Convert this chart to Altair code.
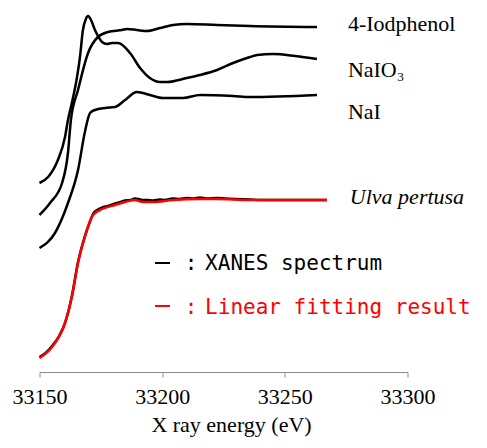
import altair as alt
import pandas as pd

# ---- reference spectra (energy in eV, offset normalized absorbance) ----
naio3_e = [33150, 33153.5, 33157.5, 33160.4, 33161.6, 33163.2, 33165.3, 33166.5, 33167.7,
           33168.9, 33169.8, 33171.0, 33172.6, 33174.3, 33175.5, 33177.5, 33179.6, 33182.0,
           33186.9, 33191.0, 33195.0, 33199.1, 33202.0, 33210.1, 33215.4, 33222.4, 33228.9,
           33235.8, 33238.7, 33245.2, 33254.2, 33263.1]
naio3_a = [1.89, 1.95, 2.12, 2.35, 2.52, 2.69, 2.95, 3.15, 3.42,
           3.53, 3.56, 3.52, 3.42, 3.34, 3.30, 3.28, 3.29, 3.29,
           3.19, 3.04, 2.94, 2.90, 2.90, 2.94, 2.97, 3.02, 3.09,
           3.15, 3.17, 3.18, 3.16, 3.13]

iodphenol_e = [33150, 33154.3, 33159.2, 33161.6, 33162.8, 33165.7, 33169.8, 33173.8, 33177.9,
               33183.6, 33185.7, 33189.7, 33193.8, 33199.1, 33204.4, 33210.1, 33222.4, 33235.8,
               33263.1]
iodphenol_a = [1.57, 1.69, 1.89, 2.19, 2.52, 2.82, 3.19, 3.35, 3.40,
               3.42, 3.43, 3.42, 3.41, 3.44, 3.47, 3.48, 3.47, 3.46,
               3.45]

nai_e = [33150, 33156.3, 33161.6, 33165.7, 33168.5, 33170.6, 33172.6, 33176.7, 33180.8,
         33184.9, 33189.7, 33195.0, 33200.3, 33208.5, 33215.4, 33228.9, 33235.8, 33263.1]
nai_a = [1.24, 1.39, 1.69, 2.02, 2.40, 2.59, 2.62, 2.64, 2.65,
         2.72, 2.80, 2.77, 2.74, 2.74, 2.77, 2.76, 2.75, 2.77]

# ---- Ulva pertusa: measured spectrum and linear fitting result ----
ulva_e = [33150, 33152.5, 33155.1, 33158.0, 33160.4, 33163.2, 33165.7, 33168.5, 33170.5,
          33171.8, 33173.5, 33175.5, 33178.0, 33180.8, 33183.0, 33184.9, 33187.0, 33188.9,
          33191.0, 33192.2, 33194.0, 33196.3, 33199.0, 33201.0, 33204.4, 33207.0, 33210.0,
          33213.0, 33215.4, 33218.0, 33222.4, 33226.0, 33230.0, 33235.8, 33240.0, 33246.0,
          33252.1, 33260.0, 33267.2]
ulva_a = [0.15, 0.19, 0.26, 0.36, 0.49, 0.76, 1.10, 1.36, 1.50,
          1.58, 1.62, 1.645, 1.66, 1.685, 1.70, 1.715, 1.72, 1.735,
          1.725, 1.72, 1.72, 1.715, 1.725, 1.72, 1.735, 1.73, 1.74,
          1.735, 1.745, 1.735, 1.74, 1.735, 1.73, 1.725, 1.72, 1.72,
          1.72, 1.72, 1.72]

fit_e = [33150, 33155.1, 33160.4, 33163.2, 33165.7, 33168.5, 33171.8, 33175.5, 33180.8,
         33184.9, 33188.9, 33192.2, 33196.3, 33204.4, 33215.4, 33222.4, 33235.8, 33252.1,
         33267.2]
fit_a = [0.14, 0.25, 0.49, 0.75, 1.09, 1.35, 1.57, 1.63, 1.67,
         1.70, 1.72, 1.70, 1.70, 1.72, 1.73, 1.73, 1.72, 1.72,
         1.72]

x_ticks = [33150, 33200, 33250, 33300]

# ---- labels ----
name_labels = ["4-Iodphenol", "NaIO\u2083", "NaI"]
name_x = [33275.7, 33275.7, 33275.7]
name_y = [3.41, 2.95, 2.53]
ulva_label = ["Ulva pertusa"]
ulva_label_x = [33276.5]
ulva_label_y = [1.68]

legend_colon = [":", ":"]
legend_text = ["XANES spectrum", "Linear fitting result"]
legend_colors = ["black", "#ff0000"]
legend_dash_x = [33197.1, 33197.1]
legend_dash_x2 = [33203.2, 33203.2]
legend_dash_y = [1.09, 0.66]
legend_colon_x = [33211.8, 33211.8]
legend_text_x = [33217.5, 33217.5]
legend_y = [1.02, 0.58]

rows = []
for name, es, as_ in [("NaIO3", naio3_e, naio3_a), ("4-Iodphenol", iodphenol_e, iodphenol_a),
                      ("NaI", nai_e, nai_a), ("Ulva", ulva_e, ulva_a)]:
    for e, a in zip(es, as_):
        rows.append({"series": name, "energy": e, "absorbance": a})
df_black = pd.DataFrame(rows)
df_fit = pd.DataFrame({"series": "fit", "energy": fit_e, "absorbance": fit_a})

x_scale = alt.Scale(domain=[33150, 33300], nice=False, zero=False)
y_scale = alt.Scale(domain=[0, 3.64], nice=False, zero=False)

x_axis = alt.Axis(values=x_ticks, format="d", title="X ray energy (eV)", grid=False,
                  domainColor="#8c8c8c", tickColor="#8c8c8c", tickSize=5, domainWidth=1,
                  labelFont="Liberation Serif", labelFontSize=22, labelColor="black",
                  labelPadding=9, labelFlush=False, labelOverlap=False,
                  titleFont="Liberation Serif", titleFontSize=22, titleFontWeight="normal",
                  titleColor="black", titlePadding=7, titleX=191.5)

black_lines = alt.Chart(df_black).mark_line(interpolate="monotone", color="black", strokeWidth=2.5).encode(
    x=alt.X("energy:Q", scale=x_scale, axis=x_axis),
    y=alt.Y("absorbance:Q", scale=y_scale, axis=None),
    detail="series:N",
)
fit_line = alt.Chart(df_fit).mark_line(interpolate="monotone", color="#ff0000", strokeWidth=2.5).encode(
    x=alt.X("energy:Q", scale=x_scale, axis=x_axis),
    y=alt.Y("absorbance:Q", scale=y_scale, axis=None),
)

df_names = pd.DataFrame({"label": name_labels, "x": name_x, "y": name_y})
names = alt.Chart(df_names).mark_text(font="Liberation Serif", fontSize=22, align="left",
                                      baseline="alphabetic", color="black").encode(
    x=alt.X("x:Q", scale=x_scale, axis=x_axis), y=alt.Y("y:Q", scale=y_scale, axis=None), text="label:N")

df_ulva = pd.DataFrame({"label": ulva_label, "x": ulva_label_x, "y": ulva_label_y})
ulva_txt = alt.Chart(df_ulva).mark_text(font="Liberation Serif", fontSize=22, fontStyle="italic",
                                        align="left", baseline="alphabetic", color="black").encode(
    x=alt.X("x:Q", scale=x_scale, axis=x_axis), y=alt.Y("y:Q", scale=y_scale, axis=None), text="label:N")

df_leg = pd.DataFrame({"colon": legend_colon, "text": legend_text,
                       "color": legend_colors, "dx": legend_dash_x, "dx2": legend_dash_x2,
                       "dy": legend_dash_y, "cx": legend_colon_x,
                       "tx": legend_text_x, "y": legend_y})
color_enc = alt.Color("color:N", scale=None)
leg_dash = alt.Chart(df_leg).mark_rule(strokeWidth=2).encode(
    x=alt.X("dx:Q", scale=x_scale, axis=x_axis), x2="dx2:Q",
    y=alt.Y("dy:Q", scale=y_scale, axis=None), color=color_enc)
leg_colon = alt.Chart(df_leg).mark_text(font="DejaVu Sans Mono", fontSize=21, align="center",
                                        baseline="alphabetic").encode(
    x=alt.X("cx:Q", scale=x_scale, axis=x_axis), y=alt.Y("y:Q", scale=y_scale, axis=None),
    text="colon:N", color=color_enc)
leg_text = alt.Chart(df_leg).mark_text(font="DejaVu Sans Mono", fontSize=21, align="left",
                                       baseline="alphabetic").encode(
    x=alt.X("tx:Q", scale=x_scale, axis=x_axis), y=alt.Y("y:Q", scale=y_scale, axis=None),
    text="text:N", color=color_enc)

chart = alt.layer(black_lines, fit_line, names, ulva_txt, leg_dash, leg_colon, leg_text).properties(
    width=368, height=364,
    background="white",
    autosize=alt.AutoSizeParams(type="none"),
    padding={"left": 31.5, "top": 0, "right": 71.5, "bottom": 68},
).configure_view(stroke=None, strokeWidth=0).configure_axisX(
    labelFont="Liberation Serif", titleFont="Liberation Serif",
)

chart.save("out.html", embed_options={"renderer": "svg", "actions": False})
